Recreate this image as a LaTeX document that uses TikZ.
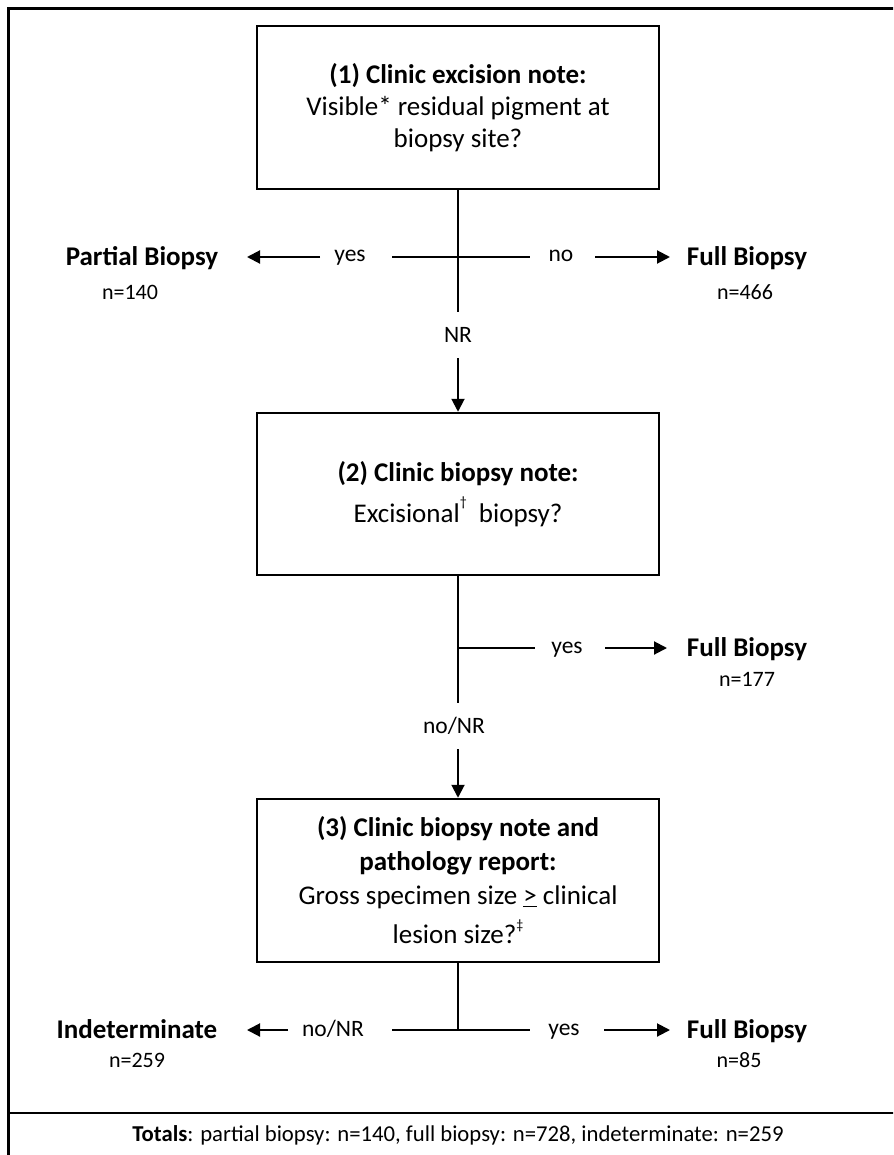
\documentclass[tikz,border=0pt]{standalone}
\usepackage{fontspec}
\setmainfont{Carlito}
\usetikzlibrary{arrows.meta}
\tikzset{
  qbox/.style={draw=black, line width=2.5pt, minimum width=402pt, align=center, inner sep=0pt, font=\fontsize{27}{32}\selectfont},
  lbl/.style={inner sep=0pt, anchor=base, font=\fontsize{23.5}{28}\selectfont},
  outc/.style={inner sep=0pt, anchor=base, font=\fontsize{27}{32}\selectfont\bfseries},
  cnt/.style={inner sep=0pt, anchor=base, font=\fontsize{22}{26}\selectfont},
  ln/.style={line width=2pt},
  arr/.style={line width=2pt, -{Triangle[length=13pt,width=13pt]}}
}
\begin{document}
\begin{tikzpicture}[x=1pt,y=-1pt]
\useasboundingbox (0,0) rectangle (893,1155);
\clip (0,0) rectangle (893,1155);
% frame
\draw[line width=3pt] (8,9) rectangle (910,1170);
\draw[line width=2.5pt] (8,1113) -- (910,1113);

% boxes
\node[qbox, minimum height=163pt] (b1) at (458,107.5)
  {\textbf{(1) Clinic excision note:}\\Visible* residual pigment at\\biopsy site?};
\node[qbox, minimum height=162pt] (b2) at (458,494)
  {\textbf{(2) Clinic biopsy note:}\\[9pt]Excisional\raisebox{16pt}{\fontsize{14}{14}\selectfont\textdagger}\ \ biopsy?};
\node[qbox, minimum height=163pt] (b3) at (458,880.5)
  {\textbf{(3) Clinic biopsy note and}\\[2pt]\textbf{pathology report:}\\[2pt]Gross specimen size \underline{>} clinical\\[7pt]lesion size?\raisebox{14pt}{\fontsize{14}{14}\selectfont\textdaggerdbl}};

% step 1
\coordinate (v1e) at (458,312);
\coordinate (h1l) at (392,257);
\coordinate (h1r) at (530,257);
\draw[ln] (b1.south) -- (v1e);
\draw[ln] (h1l) -- (h1r);
\node[lbl] (yes1) at (350,262) {yes};
\node[lbl] (no1) at (561,262) {no};
\coordinate (a1s) at (320,257); \coordinate (a1e) at (247,257);
\coordinate (a2s) at (595,257); \coordinate (a2e) at (670,257);
\draw[arr] (a1s) -- (a1e);
\draw[arr] (a2s) -- (a2e);
\node[outc] (pb) at (142,265.5) {Partial Biopsy};
\node[cnt] (n140) at (130,299) {n=140};
\node[outc] (fb1) at (747,265.5) {Full Biopsy};
\node[cnt] (n466) at (745,299) {n=466};
\node[lbl] (nr1) at (458,342) {NR};
\coordinate (a3s) at (458,358);
\draw[arr] (a3s) -- (b2.north);

% step 2
\coordinate (v2e) at (458,703);
\coordinate (j2) at (458,648);
\coordinate (h2r) at (535,648);
\draw[ln] (b2.south) -- (v2e);
\draw[ln] (j2) -- (h2r);
\node[lbl] (yes2) at (567,653) {yes};
\coordinate (a4s) at (605,648); \coordinate (a4e) at (667,648);
\draw[arr] (a4s) -- (a4e);
\node[outc] (fb2) at (747,656.5) {Full Biopsy};
\node[cnt] (n177) at (747,686) {n=177};
\node[lbl] (nonr2) at (454,733) {no/NR};
\coordinate (a5s) at (458,749);
\draw[arr] (a5s) -- (b3.north);

% step 3
\coordinate (j3) at (458,1030);
\coordinate (h3l) at (392,1030);
\coordinate (h3r) at (530,1030);
\draw[ln] (b3.south) -- (j3);
\draw[ln] (h3l) -- (h3r);
\node[lbl] (nonr3) at (333,1036) {no/NR};
\node[lbl] (yes3) at (564,1035) {yes};
\coordinate (a6s) at (288,1030); \coordinate (a6e) at (247,1030);
\coordinate (a7s) at (604,1030); \coordinate (a7e) at (670,1030);
\draw[arr] (a6s) -- (a6e);
\draw[arr] (a7s) -- (a7e);
\node[outc] (ind) at (137,1038.5) {Indeterminate};
\node[cnt] (n259) at (137,1067) {n=259};
\node[outc] (fb3) at (747,1038.5) {Full Biopsy};
\node[cnt] (n85) at (739,1067) {n=85};

% totals
\node[cnt, font=\fontsize{22.7}{26}\selectfont] (tot) at (458,1141)
  {\textbf{Totals}: partial biopsy: n=140, full biopsy: n=728, indeterminate: n=259};
\end{tikzpicture}
\end{document}
